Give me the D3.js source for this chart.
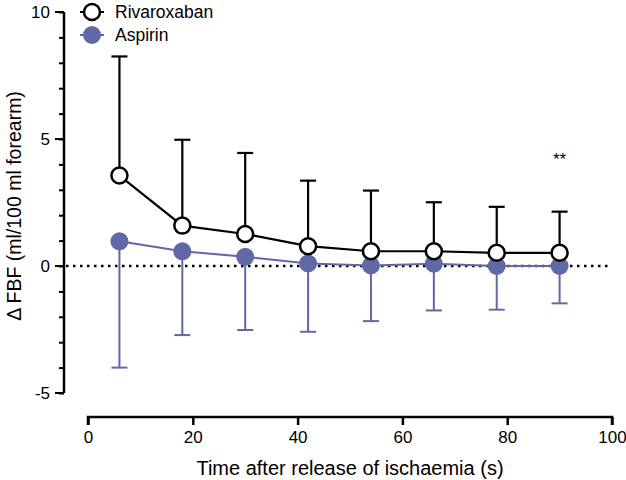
<!DOCTYPE html>
<html><head><meta charset="utf-8">
<script src="https://cdn.jsdelivr.net/npm/d3@7"></script>
<style>body{margin:0;background:#fff}text{font-family:"Liberation Sans",Arial,sans-serif}</style>
</head><body><svg id="c" width="626" height="480"></svg>
<script>
const times = [6, 18, 30, 42, 54, 66, 78, 90];
const rivaroxaban = [3.56, 1.59, 1.26, 0.78, 0.58, 0.58, 0.52, 0.52];
const rivaroxabanUpper = [8.25, 4.97, 4.45, 3.36, 2.97, 2.51, 2.33, 2.14];
const aspirin = [0.97, 0.58, 0.36, 0.10, 0.02, 0.09, 0.00, 0.00];
const aspirinLower = [-4.0, -2.72, -2.52, -2.59, -2.17, -1.75, -1.72, -1.47];
const yTicks = [-5, 0, 5, 10];
const xTicks = [0, 20, 40, 60, 80, 100];
const seriesNames = ["Rivaroxaban", "Aspirin"];
const blue = "#6168a6";

const svg = d3.select("#c");
const x = d3.scaleLinear().domain([0, 100]).range([88, 612]);
const y = d3.scaleLinear().domain([-5, 10]).range([393, 12]);

// Y axis
const yAxis = svg.append("g").attr("transform", "translate(64,0)");
yAxis.call(d3.axisLeft(y).tickValues(d3.range(-5, 11, 1)).tickSize(5).tickFormat(() => ""));
yAxis.call(g => g.select(".domain").remove());
yAxis.append("line").attr("x1", 0).attr("x2", 0).attr("y1", y(-5)).attr("y2", y(10)).attr("stroke", "#000").attr("stroke-width", 2.5);
yAxis.selectAll(".tick line").attr("stroke", "#000").attr("stroke-width", 2);
yTicks.forEach(v => {
  yAxis.append("line").attr("x1", -9).attr("x2", 0).attr("y1", y(v)).attr("y2", y(v)).attr("stroke", "#000").attr("stroke-width", 2);
  yAxis.append("text").attr("x", -14).attr("y", y(v)).attr("dy", "0.35em").attr("text-anchor", "end")
    .attr("font-size", 17).attr("fill", "#000").text(v);
});

// X axis
const xAxis = svg.append("g").attr("transform", "translate(0,417)");
xAxis.call(d3.axisBottom(x).tickValues(xTicks).tickSize(8).tickPadding(6).tickFormat(d3.format("d")));
xAxis.select(".domain").attr("stroke-width", 2.5).attr("d", `M${x(0)},8V0H${x(100)}V8`);
xAxis.selectAll(".tick line").attr("stroke-width", 2.5);
xAxis.selectAll(".tick text").attr("font-size", 17).attr("fill", "#000");

svg.append("text").attr("x", x(50)).attr("y", 475).attr("text-anchor", "middle").attr("font-size", 20)
  .text("Time after release of ischaemia (s)");
svg.append("text").attr("transform", `translate(21,206) rotate(-90)`).attr("text-anchor", "middle").attr("font-size", 19.5)
  .text("Δ FBF (ml/100 ml forearm)");

// zero dotted line
svg.append("line").attr("x1", 66).attr("x2", x(100)).attr("y1", y(0)).attr("y2", y(0))
  .attr("stroke", "#000").attr("stroke-width", 2.5).attr("stroke-dasharray", "2.5,4.5");

// Aspirin error bars
const capW = 8;
times.forEach((t, i) => {
  svg.append("line").attr("x1", x(t)).attr("x2", x(t)).attr("y1", y(aspirin[i])).attr("y2", y(aspirinLower[i])).attr("stroke", blue).attr("stroke-width", 2);
  svg.append("line").attr("x1", x(t) - capW).attr("x2", x(t) + capW).attr("y1", y(aspirinLower[i])).attr("y2", y(aspirinLower[i])).attr("stroke", blue).attr("stroke-width", 2);
});
// Rivaroxaban error bars
times.forEach((t, i) => {
  svg.append("line").attr("x1", x(t)).attr("x2", x(t)).attr("y1", y(rivaroxaban[i])).attr("y2", y(rivaroxabanUpper[i])).attr("stroke", "#000").attr("stroke-width", 2.2);
  svg.append("line").attr("x1", x(t) - capW).attr("x2", x(t) + capW).attr("y1", y(rivaroxabanUpper[i])).attr("y2", y(rivaroxabanUpper[i])).attr("stroke", "#000").attr("stroke-width", 2.2);
});

const line = d3.line().x(d => x(d[0])).y(d => y(d[1]));
svg.append("path").datum(times.map((t, i) => [t, aspirin[i]])).attr("d", line).attr("fill", "none").attr("stroke", blue).attr("stroke-width", 2);
svg.append("path").datum(times.map((t, i) => [t, rivaroxaban[i]])).attr("d", line).attr("fill", "none").attr("stroke", "#000").attr("stroke-width", 2.2);

svg.selectAll(".asp").data(aspirin).enter().append("circle").attr("cx", (d, i) => x(times[i])).attr("cy", d => y(d)).attr("r", 9).attr("fill", blue);
svg.selectAll(".riv").data(rivaroxaban).enter().append("circle").attr("cx", (d, i) => x(times[i])).attr("cy", d => y(d)).attr("r", 8).attr("fill", "#fff").attr("stroke", "#000").attr("stroke-width", 2.5);

svg.append("text").attr("x", x(90)).attr("y", 165).attr("text-anchor", "middle").attr("font-size", 17).text("**");

// Legend
const leg = [{ y: 12, fill: "#fff", stroke: "#000", lc: "#000" }, { y: 35, fill: blue, stroke: "none", lc: blue }];
leg.forEach((l, i) => {
  svg.append("line").attr("x1", 80).attr("x2", 104).attr("y1", l.y).attr("y2", l.y).attr("stroke", l.lc).attr("stroke-width", 2);
  svg.append("circle").attr("cx", 92).attr("cy", l.y).attr("r", i === 0 ? 8 : 9).attr("fill", l.fill).attr("stroke", l.stroke).attr("stroke-width", 2.5);
  svg.append("text").attr("x", 115).attr("y", l.y).attr("dy", "0.35em").attr("font-size", 17.5).text(seriesNames[i]);
});
</script></body></html>
